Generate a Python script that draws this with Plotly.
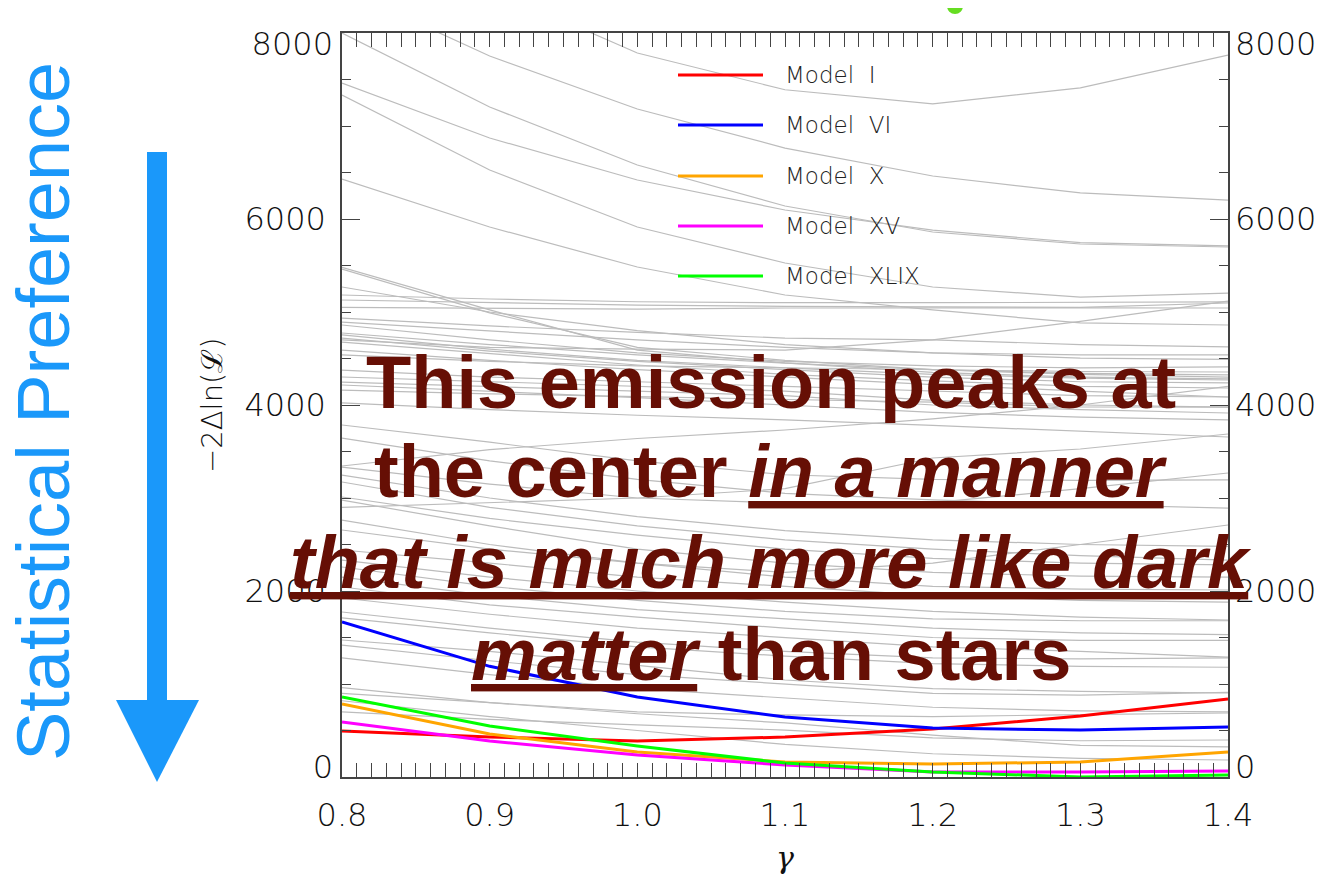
import plotly.graph_objects as go

# ---------------- data ----------------
gamma = [0.8, 0.9, 1.0, 1.1, 1.2, 1.3, 1.4]
x_ticks = [0.8, 0.9, 1.0, 1.1, 1.2, 1.3, 1.4]
y_ticks_mid = [2000, 4000, 6000]
y_tick_top = [8000]
y_tick_bottom = [0]

model_names = ["Model  I", "Model  VI", "Model  X", "Model  XV", "Model  XLIX"]
model_colors = ["#ff0000", "#0000ff", "#ffa500", "#ff00ff", "#00ff00"]
model_I = [495, 430, 387, 430, 516, 656, 839]
model_VI = [1667, 1190, 860, 645, 527, 505, 538]
model_X = [785, 462, 269, 161, 140, 161, 269]
model_XV = [591, 387, 237, 129, 54, 54, 65]
model_XLIX = [860, 548, 333, 150, 54, 0, 21]

# other (grey) models, grouped by region
grey_upper = [
    [9300, 8480, 7785, 7390, 7237, 7409, 7763],
    [8480, 7753, 7183, 6763, 6462, 6280, 6204],
    [8000, 7204, 6581, 6140, 5860, 5731, 5699],
    [7462, 6871, 6419, 6097, 5880, 5745, 5710],
    [7333, 6527, 5914, 5527, 5269, 5161, 5204],
    [6430, 5914, 5484, 5183, 5022, 4882, 4860],
]
grey_middle = [
    [5480, 5022, 4591, 4452, 4350, 4300, 4280],
    [5462, 4990, 4620, 4480, 4380, 4330, 4300],
    [5269, 5000, 4800, 4650, 4560, 4505, 4490],
    [5183, 5140, 5110, 5100, 5100, 5105, 5108],
    [5129, 5100, 5075, 5060, 5055, 5050, 5097],
    [5050, 5040, 5030, 5043, 5040, 5045, 5043],
    [4935, 4850, 4780, 4720, 4700, 4650, 4624],
    [4892, 4800, 4700, 4620, 4560, 4540, 4538],
    [4860, 4700, 4560, 4470, 4420, 4400, 4409],
    [4774, 4650, 4540, 4450, 4380, 4340, 4323],
    [4753, 4600, 4480, 4400, 4330, 4290, 4269],
    [4720, 4580, 4470, 4380, 4300, 4250, 4237],
    [4677, 4550, 4430, 4330, 4260, 4200, 4183],
    [4591, 4480, 4380, 4300, 4220, 4150, 4086],
    [4538, 4470, 4420, 4400, 4380, 4360, 4355],
    [4376, 4300, 4250, 4200, 4150, 4100, 4086],
    [4301, 4250, 4200, 4150, 4050, 4000, 3978],
    [4247, 4200, 4150, 4100, 4000, 3950, 3914],
    [4215, 4150, 4080, 4000, 3920, 3870, 3839],
    [4161, 4120, 4090, 4060, 4030, 3980, 3978],
    [4022, 3950, 3890, 3840, 3780, 3720, 3656],
    [3344, 3520, 3640, 3731, 3850, 4000, 4200],
    [4700, 4620, 4600, 4591, 4700, 4900, 5118],
    [2900, 2950, 3000, 3100, 3430, 3527, 3688],
]
grey_lower = [
    [3785, 3600, 3400, 3250, 3200, 3190, 3194],
    [3645, 3400, 3200, 3050, 2980, 2930, 2892],
    [3333, 3150, 3000, 2946, 2950, 3100, 3269],
    [3247, 3000, 2800, 2650, 2550, 2500, 2480],
    [3172, 2900, 2700, 2550, 2450, 2380, 2333],
    [3011, 2780, 2600, 2450, 2350, 2300, 2280],
    [2978, 2700, 2450, 2300, 2200, 2160, 2150],
    [2763, 2500, 2300, 2150, 2050, 2020, 2011],
    [2656, 2450, 2300, 2200, 2300, 2500, 2710],
    [2441, 2300, 2150, 2050, 1950, 1900, 1880],
    [2333, 2150, 2000, 1880, 1780, 1720, 1688],
    [2258, 2050, 1900, 1780, 1700, 1680, 1680],
    [2150, 1950, 1800, 1700, 1600, 1550, 1530],
    [2043, 1850, 1720, 1600, 1500, 1470, 1470],
    [1925, 1750, 1600, 1500, 1400, 1350, 1290],
    [1774, 1600, 1450, 1350, 1280, 1270, 1280],
    [1710, 1550, 1400, 1300, 1220, 1190, 1180],
    [1473, 1350, 1200, 1043, 950, 920, 903],
    [1419, 1250, 1100, 1000, 900, 880, 910],
    [1280, 1100, 950, 850, 750, 710, 700],
    [900, 800, 700, 667, 650, 670, 688],
    [700, 620, 560, 505, 420, 390, 398],
    [960, 800, 680, 581, 450, 340, 323],
    [820, 650, 500, 350, 250, 200, 183],
]

overlay_lines = [
    "This emission peaks at",
    "the center <i><u>in a manner</u></i>",
    "<i><u>that is much more like dark</u></i>",
    "<i><u>matter</u></i> than stars",
]

# ---------------- figure ----------------
# The page body adds an 8px offset, so the figure is 8px smaller and all
# layout positions (given in screen pixels) are shifted by 8px.
OFF = 8
W, H = 1327 - OFF, 891 - OFF


def px(x):
    return (x - OFF) / W


def py(y):
    return 1 - (y - OFF) / H


fig = go.Figure()

GREY = "#bcbcbc"
for row in grey_upper + grey_middle + grey_lower:
    fig.add_trace(go.Scatter(x=gamma, y=row, mode="lines",
                             line=dict(color=GREY, width=1.2),
                             hoverinfo="skip", showlegend=False))

model_values = [model_I, model_VI, model_X, model_XV, model_XLIX]
for name, col, vals in zip(model_names, model_colors, model_values):
    fig.add_trace(go.Scatter(x=gamma, y=vals, mode="lines", name=name,
                             line=dict(color=col, width=3),
                             showlegend=False))

# invisible traces to carry the extra label axes
for ax in ["y2", "y3", "y4", "y5", "y6"]:
    fig.add_trace(go.Scatter(x=gamma, y=model_I, mode="lines", yaxis=ax,
                             line=dict(width=0), opacity=0,
                             hoverinfo="skip", showlegend=False))

TICKFONT = dict(family="DejaVu Sans", size=32, color="#111111", weight=200)
AXCOL = "#444444"


def label_axis(side, vals, shift, standoff):
    return dict(overlaying="y", side=side, anchor="x", range=[0, 8000],
                tickvals=vals, ticks="", showline=False, showgrid=False,
                zeroline=False, tickfont=TICKFONT, ticklabelshift=shift,
                ticklabelstandoff=standoff, automargin=False)


fig.update_layout(
    width=W, height=H,
    margin=dict(l=0, r=0, t=0, b=0, pad=0, autoexpand=False),
    paper_bgcolor="white", plot_bgcolor="white",
    xaxis=dict(
        domain=[px(342), px(1228)], range=[0.8, 1.4],
        tickvals=x_ticks, tickformat=".1f",
        ticks="inside", ticklen=14, tickwidth=1.2, tickcolor=AXCOL,
        minor=dict(dtick=0.01, ticks="inside", ticklen=7,
                   tickwidth=1, tickcolor=AXCOL),
        showline=True, linecolor=AXCOL, linewidth=1.5, mirror="allticks",
        showgrid=False, zeroline=False, tickfont=TICKFONT,
        ticklabelstandoff=9, automargin=False,
    ),
    yaxis=dict(
        domain=[py(777), py(33)], range=[0, 8000],
        tickvals=y_ticks_mid,
        ticks="inside", ticklen=18, tickwidth=1.2, tickcolor=AXCOL,
        minor=dict(dtick=500, ticks="inside", ticklen=9,
                   tickwidth=1, tickcolor=AXCOL),
        showline=True, linecolor=AXCOL, linewidth=1.5, mirror="allticks",
        showgrid=False, zeroline=False, tickfont=TICKFONT,
        ticklabelstandoff=8, automargin=False,
    ),
    yaxis2=label_axis("right", y_ticks_mid, 0, 6),
    yaxis3=label_axis("left", y_tick_top, 11, 8),
    yaxis4=label_axis("left", y_tick_bottom, -10, 8),
    yaxis5=label_axis("right", y_tick_top, 11, 6),
    yaxis6=label_axis("right", y_tick_bottom, -10, 6),
)

annotations = []
# legend (manual, inside plot)
leg_y = [75, 125, 176, 226, 276]
shapes = []
for name, col, ly in zip(model_names, model_colors, leg_y):
    shapes.append(dict(type="line", xref="paper", yref="paper",
                       x0=px(678), x1=px(763), y0=py(ly), y1=py(ly),
                       line=dict(color=col, width=3)))
    annotations.append(dict(text=name, xref="paper", yref="paper",
                            x=px(783), y=py(ly), xanchor="left",
                            yanchor="middle", showarrow=False,
                            font=dict(family="DejaVu Sans", size=23,
                                      color="#222222", weight=200)))

# axis titles
annotations.append(dict(text="<i>γ</i>", xref="paper", yref="paper",
                        x=px(785), y=py(857), xanchor="center",
                        yanchor="middle", showarrow=False,
                        font=dict(family="DejaVu Serif", size=30,
                                  color="#111111")))
annotations.append(dict(text="−2Δln(ℒ)", xref="paper", yref="paper",
                        x=px(212), y=py(405), textangle=-90,
                        xanchor="center", yanchor="middle",
                        showarrow=False,
                        font=dict(family="DejaVu Sans", size=29,
                                  color="#111111", weight=200)))

# Statistical Preference label and arrow
BLUE = "#1a98fa"
annotations.append(dict(text="Statistical Preference", xref="paper",
                        yref="paper", x=px(44), y=py(412), textangle=-90,
                        xanchor="center", yanchor="middle",
                        showarrow=False,
                        font=dict(family="Liberation Sans", size=74,
                                  color=BLUE)))
shapes.append(dict(type="rect", xref="paper", yref="paper",
                   x0=px(147), x1=px(167), y0=py(702), y1=py(152),
                   fillcolor=BLUE, line=dict(width=0)))
shapes.append(dict(type="path", xref="paper", yref="paper",
                   path="M {} {} L {} {} L {} {} Z".format(
                       px(116), py(700), px(199), py(700), px(157), py(782)),
                   fillcolor=BLUE, line=dict(width=0)))

# overlay statement
TXT = "#660f05"
overlay_y = [382, 472, 562, 654]
for line, oy in zip(overlay_lines, overlay_y):
    annotations.append(dict(text="<b>" + line + "</b>", xref="paper",
                            yref="paper", x=px(771), y=py(oy),
                            xanchor="center", yanchor="middle",
                            showarrow=False,
                            font=dict(family="Liberation Sans", size=74,
                                      color=TXT)))

# slide frame remnant (title glyph peeking in at the top)
shapes.append(dict(type="circle", xref="paper", yref="paper",
                   x0=px(947), x1=px(963), y0=py(14), y1=py(-2),
                   fillcolor="#66dd22", line=dict(width=0), layer="above"))

fig.update_layout(annotations=annotations, shapes=shapes)

fig.write_html("out.html")
